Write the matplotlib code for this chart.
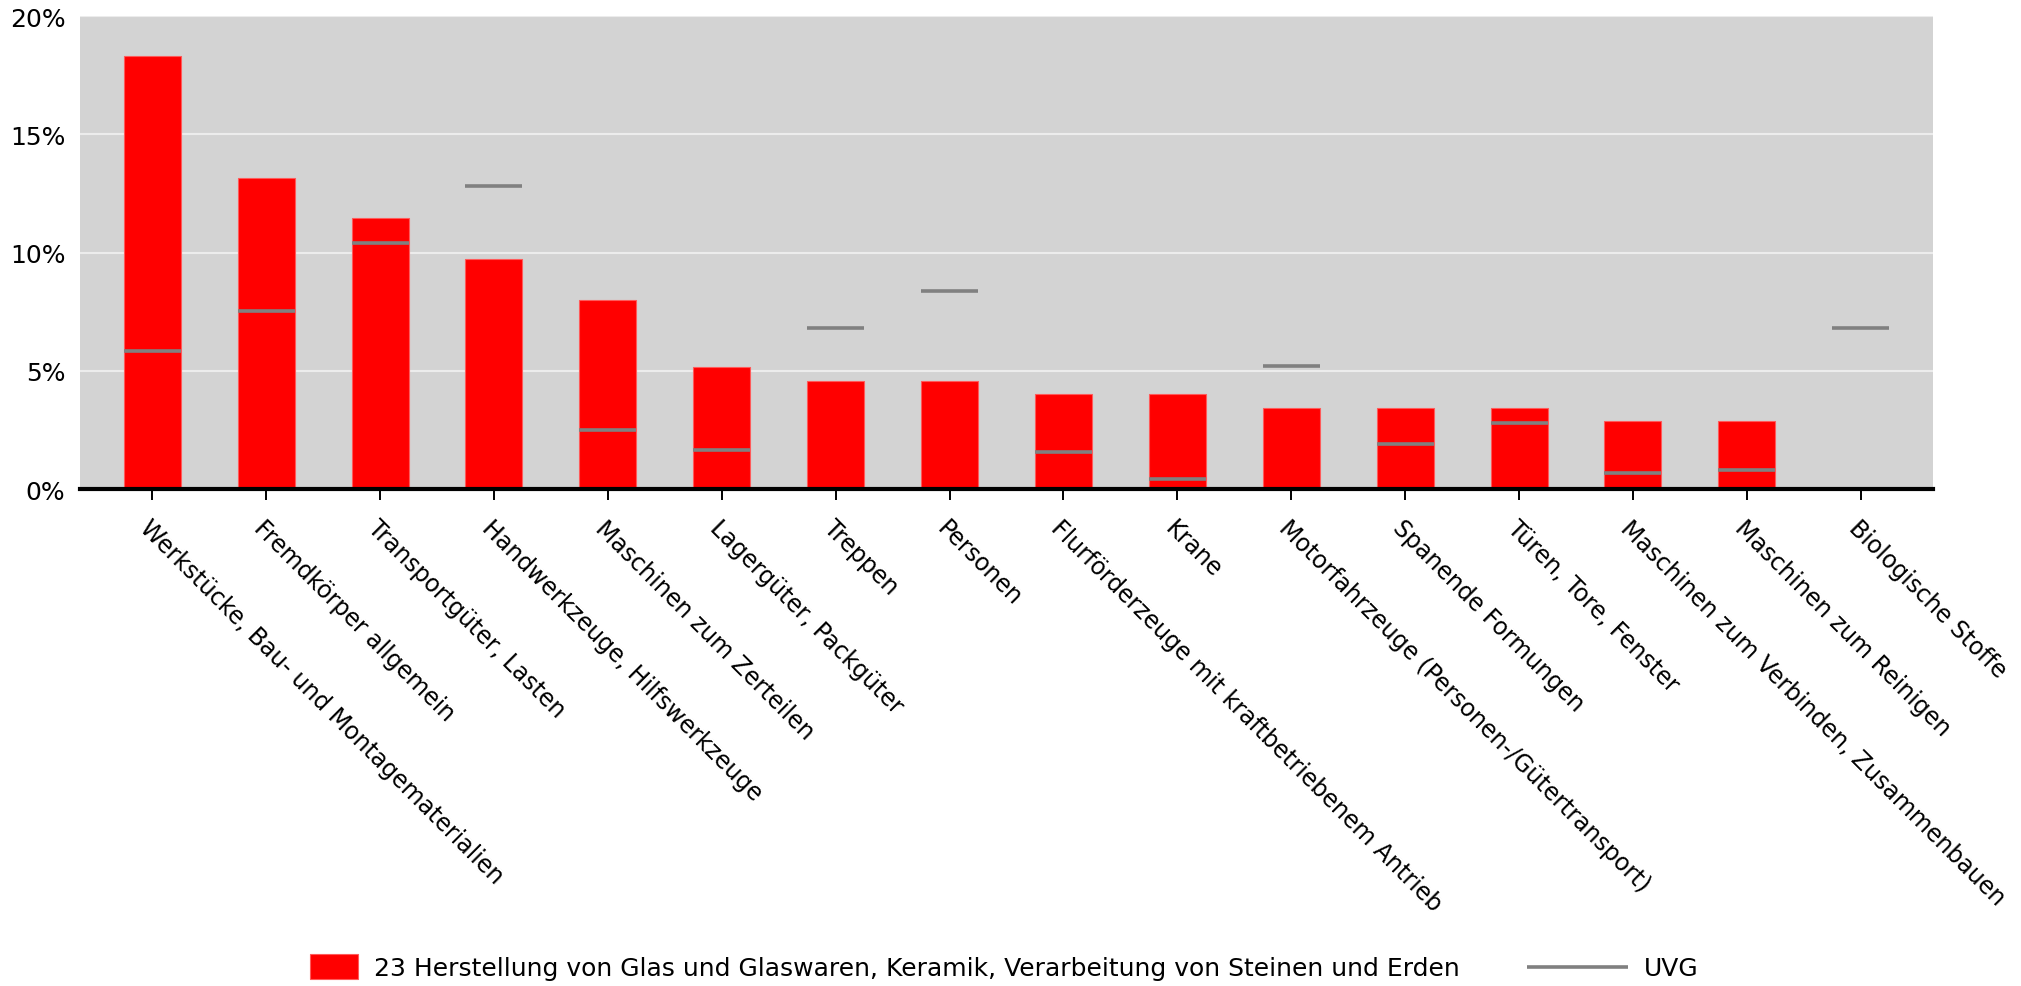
import matplotlib
matplotlib.use("Agg")
import matplotlib.pyplot as plt
from matplotlib.lines import Line2D
from matplotlib.patches import Patch
from matplotlib.ticker import FuncFormatter
import numpy as np

categories = [
    "Werkstücke, Bau- und Montagematerialien",
    "Fremdkörper allgemein",
    "Transportgüter, Lasten",
    "Handwerkzeuge, Hilfswerkzeuge",
    "Maschinen zum Zerteilen",
    "Lagergüter, Packgüter",
    "Treppen",
    "Personen",
    "Flurförderzeuge mit kraftbetriebenem Antrieb",
    "Krane",
    "Motorfahrzeuge (Personen-/Gütertransport)",
    "Spanende Formungen",
    "Türen, Tore, Fenster",
    "Maschinen zum Verbinden, Zusammenbauen",
    "Maschinen zum Reinigen",
    "Biologische Stoffe",
]
branche = [18.3, 13.15, 11.45, 9.72, 8.0, 5.16, 4.58, 4.58, 4.0, 4.0, 3.44, 3.44, 3.44, 2.86, 2.86, 0.0]
uvg = [5.84, 7.54, 10.39, 12.81, 2.51, 1.64, 6.82, 8.36, 1.58, 0.42, 5.2, 1.89, 2.8, 0.68, 0.8, 6.81]
yticks = [0, 5, 10, 15, 20]

branche_label = "23 Herstellung von Glas und Glaswaren, Keramik, Verarbeitung von Steinen und Erden"
uvg_label = "UVG"

plt.rcParams["font.family"] = ["DejaVu Sans"]
FS_X = 17
FS_Y = 18
FS_LEG = 18
W, H, DPI = 2021, 987, 100
fs_px = FS_LEG * DPI / 72


class LongLineHandler:
    # legend line for UVG is longer than the patch box, extend it to the left
    def legend_artist(self, legend, orig_handle, fontsize, handlebox):
        x0, y0 = -handlebox.xdescent, -handlebox.ydescent
        w, h = handlebox.width, handlebox.height
        length = 101 * 72 / DPI
        line = Line2D([x0 + w - length, x0 + w], [y0 + h / 2, y0 + h / 2],
                      color="#808080", lw=2.6, solid_capstyle="butt")
        handlebox.add_artist(line)
        return line


fig = plt.figure(figsize=(W / DPI, H / DPI), dpi=DPI)
ax = fig.add_axes([80 / W, 1 - 490 / H, (1933 - 80) / W, (490 - 17) / H])
ax.set_facecolor("#d3d3d3")

x = np.arange(len(categories))
bw = 0.5
ax.bar(x, branche, width=bw, color="#ff0000", edgecolor="#ff5a5a", linewidth=0.8, zorder=2)
ax.hlines(uvg, x - bw / 2, x + bw / 2, colors="#808080", linewidth=2.6, zorder=3)

ax.set_xlim(-0.634, len(categories) - 1 + 0.634)
ax.set_ylim(0, 20)
ax.set_yticks(yticks)
ax.yaxis.set_major_formatter(FuncFormatter(lambda v, p: f"{v:.0f}%"))
ax.grid(axis="y", color="#ececec", linewidth=1.5, zorder=1)
ax.set_axisbelow(True)

for s in ["top", "right", "left"]:
    ax.spines[s].set_visible(False)
ax.spines["bottom"].set_linewidth(3)
ax.spines["bottom"].set_color("black")
ax.spines["bottom"].set_zorder(4)

ax.tick_params(axis="y", length=0, pad=10.5, labelsize=FS_Y)
ax.tick_params(axis="x", length=8, width=1.4, color="black", pad=11, labelsize=FS_X)
ax.set_xticks(x)
ax.set_xticklabels(categories, rotation=-45, ha="left", va="top", rotation_mode="anchor")

handles = [Patch(facecolor="#ff0000", edgecolor="#ff5a5a", linewidth=0.8),
           Line2D([], [], color="#808080")]
leg = fig.legend(handles, [branche_label, uvg_label], loc="center",
                 bbox_to_anchor=(0.497, 19 / H), ncol=2, frameon=False,
                 fontsize=FS_LEG, handlelength=48 / fs_px,
                 handleheight=29 / fs_px,
                 handletextpad=16 / fs_px, columnspacing=120 / fs_px,
                 handler_map={Line2D: LongLineHandler()})

fig.savefig("out.png", dpi=DPI)
